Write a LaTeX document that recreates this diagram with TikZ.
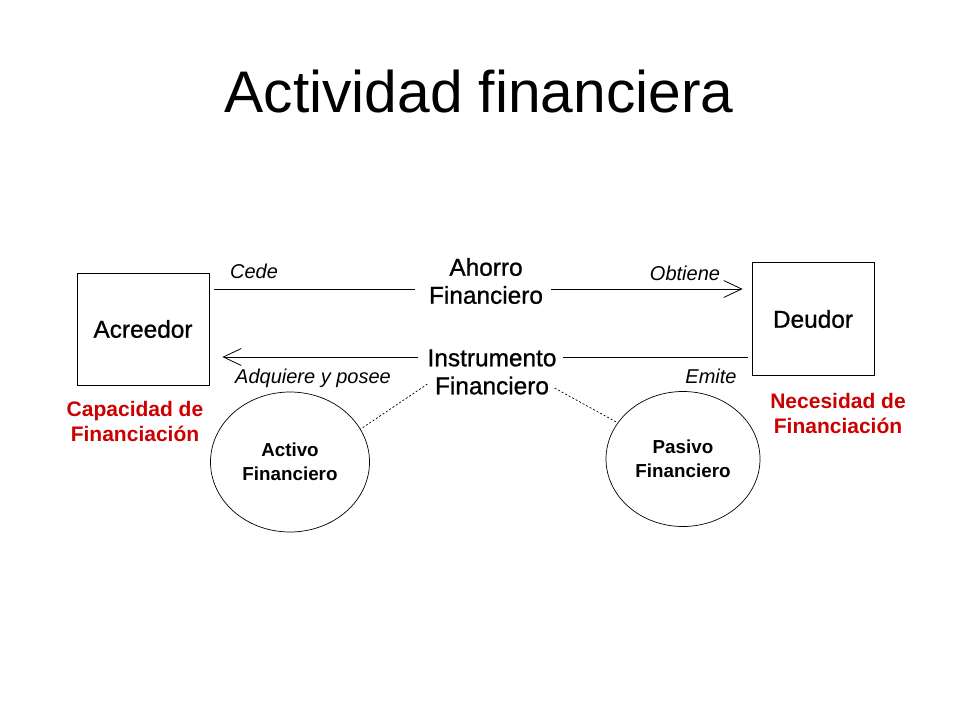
\documentclass[tikz,border=0pt]{standalone}
\usepackage{fontspec}
\setmainfont{Liberation Sans}
\newfontfamily\heavyfont{Liberation Sans}[FakeBold=0.9]
\usetikzlibrary{positioning,arrows.meta,shapes.geometric}
\definecolor{redtext}{RGB}{204,0,0}
\tikzstyle{agent} = [rectangle, draw, line width=0.8pt, minimum width=132pt, minimum height=112pt, font=\heavyfont\fontsize{24.4}{28}\selectfont]
\tikzstyle{asset} = [ellipse, draw, line width=0.7pt, minimum width=159pt, minimum height=140pt, align=center, font=\fontsize{18.8}{24}\selectfont\bfseries]
\tikzstyle{flow}  = [align=center, inner xsep=0pt, font=\heavyfont\fontsize{24.4}{28}\selectfont]
\tikzstyle{verb}  = [font=\fontsize{20}{24}\selectfont\itshape]
\tikzstyle{arrow} = [line width=0.8pt, -{Straight Barb[length=18pt,width=17pt,line width=0.8pt]}]

\begin{document}
\begin{tikzpicture}[x=1pt,y=-1pt,
			need/.style={align=center, text=redtext, font=\fontsize{21}{25}\selectfont\bfseries}
		]
		\useasboundingbox (0,0) rectangle (960,720);
		\node (title) at (479,92) {\fontsize{58.7}{64}\selectfont Actividad financiera};

		\node[agent] (acreedor) at (143,329) {Acreedor};
		\node[agent, minimum width=122pt, minimum height=113pt] (deudor) at (813,319) {Deudor};

		\node[flow] (ahorro) at (486,281) {Ahorro\\Financiero};
		\node[flow] (instr) at (492,372) {Instrumento\\Financiero};
		\coordinate (topline) at (0,289);
		\coordinate (botline) at (0,357);

		\draw[line width=0.8pt] ([xshift=5]acreedor.east |- topline) -- ([xshift=-14]ahorro.west |- topline);
		\draw[arrow] ([xshift=8]ahorro.east |- topline) -- ([xshift=-9]deudor.west |- topline);
		\draw[line width=0.8pt] ([xshift=-4]deudor.west |- botline) -- ([xshift=6]instr.east |- botline);
		\draw[arrow] ([xshift=-9]instr.west |- botline) -- ([xshift=13]acreedor.east |- botline);

		\node[verb] (cede) at (254,271) {Cede};
		\node[verb] (obtiene) at (685,273) {Obtiene};
		\node[verb] (adquiere) at (313,378) {Adquiere y posee};
		\node[verb] (emite) at (711,376) {Emite};

		\node[need] (capacidad) at (135,421) {Capacidad de\\Financiación};
		\node[need] (necesidad) at (838,413) {Necesidad de\\Financiación};

		\node[asset] (activo) at (290,462) {Activo\\Financiero};
		\node[asset, minimum width=154pt, minimum height=135pt] (pasivo) at (683,459) {Pasivo\\Financiero};

		\draw[dashed, dash pattern=on 2pt off 2pt, line width=0.7pt] ([yshift=14]instr.south west) -- (activo.25);
		\draw[dashed, dash pattern=on 2pt off 2pt, line width=0.7pt] ([xshift=-2,yshift=10]instr.south east) -- (pasivo.151);
	\end{tikzpicture}
\end{document}
